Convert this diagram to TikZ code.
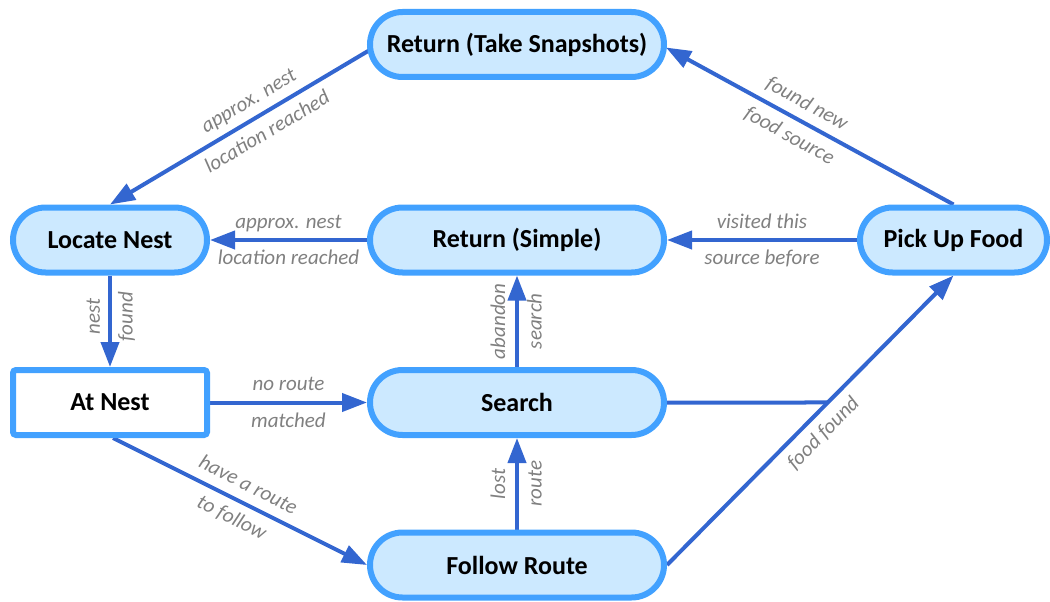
\documentclass[tikz,border=0pt]{standalone}
\usepackage{fontspec}
\setmainfont{Carlito}
\usetikzlibrary{arrows.meta,shapes.misc,calc,intersections,backgrounds}

\definecolor{edgeblue}{RGB}{51,102,208}
\definecolor{rimblue}{RGB}{66,161,255}
\definecolor{paleblue}{RGB}{204,233,255}
\definecolor{labelgray}{RGB}{128,128,128}

\begin{document}
\begin{tikzpicture}[x=1pt,y=-1pt,
  state/.style={rounded rectangle, draw=rimblue, fill=paleblue, line width=6pt,
    minimum height=65pt, inner xsep=0pt,
    font=\fontsize{26}{29}\selectfont\bfseries},
  wide/.style={state, minimum width=294pt},
  home/.style={rectangle, rounded corners=3pt, draw=rimblue, fill=white,
    line width=6pt, minimum width=194pt, minimum height=65pt,
    font=\fontsize{26}{29}\selectfont\bfseries},
  link/.style={draw=edgeblue, line width=4pt,
    -{Triangle[length=25pt,width=18pt]}},
  tag/.style={font=\fontsize{21}{23}\selectfont\itshape, text=labelgray,
    inner sep=0pt, text height=14.5pt, text depth=4.5pt},
  up/.style={tag, sloped, above=5.5pt},
  dn/.style={tag, sloped, below=8pt}
]
\useasboundingbox (0,0) rectangle (1050,602);

% states
\node[wide] (ts) at (517,44.5) {Return (Take Snapshots)};
\node[state, minimum width=194pt] (ln) at (110,240) {Locate Nest};
\node[wide] (rs) at (517,240) {Return (Simple)};
\node[state, minimum width=187pt] (pk) at (953.5,240) {Pick Up Food};
\node[home] (an) at (110,402.5) {At Nest};
\node[wide] (se) at (517,402.5) {Search};
\node[wide] (fr) at (517,565) {Follow Route};

% transitions, drawn behind the states
\begin{scope}[on background layer]
  \draw[link] ($(ts.west)+(12,0)$) --
    node[up, pos=0.45] {approx. nest}
    node[dn, pos=0.45] {location reached} (ln.north);
  \draw[link] (pk.north) --
    node[up, pos=0.54] {found new}
    node[dn, pos=0.54] {food source} ($(ts.east)+(-1,3)$);
  \draw[link] (rs.west) --
    node[up] {approx. nest}
    node[dn] {location reached} (ln.east);
  \draw[link] (pk.west) --
    node[up] {visited this}
    node[dn] {source before} (rs.east);
  \draw[link] (ln.south) -- (an.north);
  \path (an.north) -- node[up, pos=0.55] {nest} node[dn, pos=0.55] {found} (ln.south);
  \draw[link] (an.east) --
    node[up] {no route}
    node[dn] {matched} (se.west);
  \draw[link] ($(an.south)+(3,0)$) --
    node[up, pos=0.5] {have a route}
    node[dn, pos=0.5] {to follow} (fr.west);
  \draw[link] (se.north) --
    node[up] {abandon}
    node[dn] {search} (rs.south);
  \draw[link] (fr.north) --
    node[up] {lost}
    node[dn] {route} (se.south);
  \draw[link, name path=diag] (fr.east) --
    node[dn, pos=0.5] {food found} (pk.south);
  \path[name path=flat] (se.east) -- (se.east -| pk.east);
  \path[name intersections={of=diag and flat, by=j}];
  \draw[draw=edgeblue, line width=4pt] (se.east) -- (j);
\end{scope}
\end{tikzpicture}
\end{document}
